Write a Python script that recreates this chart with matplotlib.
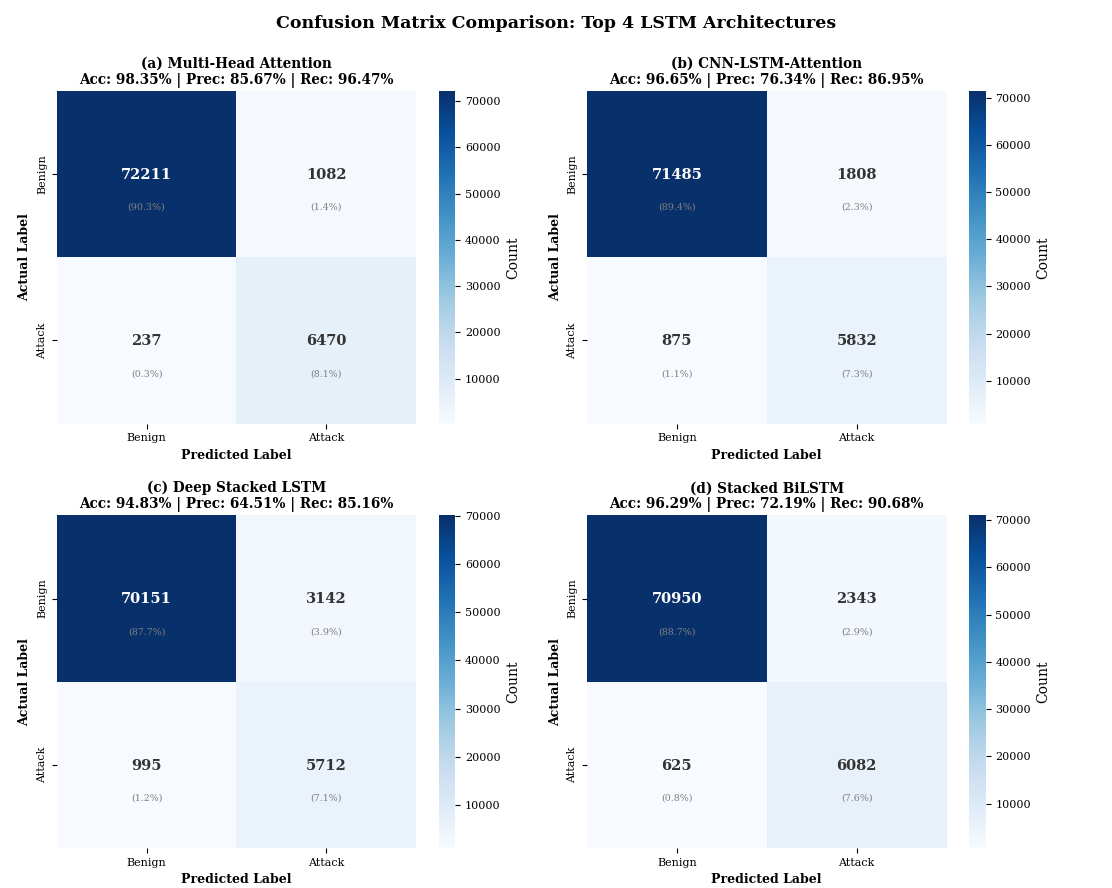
import numpy as np
import matplotlib
matplotlib.use("Agg")
import matplotlib.pyplot as plt
import seaborn as sns

plt.rcParams['font.family'] = 'serif'
plt.rcParams['font.serif'] = ['DejaVu Serif']

# confusion matrices, rows = actual, cols = predicted
class_labels = ['Benign', 'Attack']
model_names = ['(a) Multi-Head Attention', '(b) CNN-LSTM-Attention',
               '(c) Deep Stacked LSTM', '(d) Stacked BiLSTM']
acc = [98.35, 96.65, 94.83, 96.29]
prec = [85.67, 76.34, 64.51, 72.19]
rec = [96.47, 86.95, 85.16, 90.68]
cm_a = [[72211, 1082], [237, 6470]]
cm_b = [[71485, 1808], [875, 5832]]
cm_c = [[70151, 3142], [995, 5712]]
cm_d = [[70950, 2343], [625, 6082]]
matrices = [cm_a, cm_b, cm_c, cm_d]

fig, axes = plt.subplots(2, 2, figsize=(11.12, 8.88), dpi=100)
plt.subplots_adjust(left=0.051, right=0.932, top=0.8975, bottom=0.045,
                    wspace=0.18, hspace=0.276)

for k, ax in enumerate(axes.flat):
    cm = np.array(matrices[k])
    total = cm.sum()
    sns.heatmap(cm, ax=ax, cmap='Blues', annot=False, cbar=True,
                xticklabels=class_labels, yticklabels=class_labels,
                cbar_kws={'label': 'Count'})
    cbar = ax.collections[0].colorbar
    cbar.ax.tick_params(labelsize=8)
    cbar.set_label('Count', fontsize=10)
    thresh = (cm.max() + cm.min()) / 2
    for i in range(2):
        for j in range(2):
            col = 'white' if cm[i, j] > thresh else '#333333'
            ax.text(j + 0.5, i + 0.505, f'{cm[i, j]}', ha='center', va='center',
                    fontsize=10.5, fontweight='bold', color=col)
            ax.text(j + 0.5, i + 0.7, f'({cm[i, j] / total * 100:.1f}%)',
                    ha='center', va='center', fontsize=6.8, color='gray')
    ax.set_title(f'{model_names[k]}\nAcc: {acc[k]:.2f}% | Prec: {prec[k]:.2f}% | Rec: {rec[k]:.2f}%',
                 fontsize=9.8, fontweight='bold', pad=5)
    ax.set_xlabel('Predicted Label', fontsize=9, fontweight='bold')
    ax.set_ylabel('Actual Label', fontsize=9, fontweight='bold')
    ax.tick_params(labelsize=8)
    ax.set_xticklabels(class_labels, rotation=0)
    ax.set_yticklabels(class_labels, rotation=90, va='center')

fig.suptitle('Confusion Matrix Comparison: Top 4 LSTM Architectures',
             fontsize=12.5, fontweight='bold', y=0.983)

plt.savefig('out.png', dpi=100)
